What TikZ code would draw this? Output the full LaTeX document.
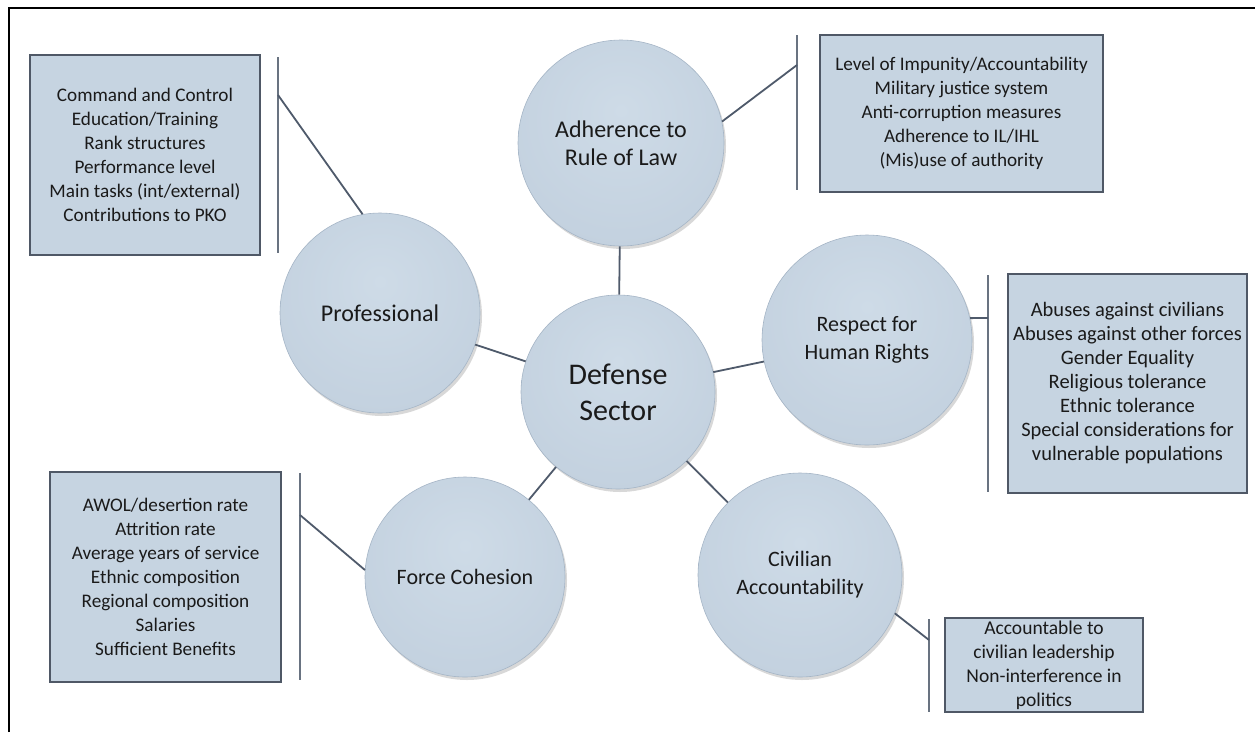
\documentclass[tikz,border=0pt]{standalone}
\usepackage{fontspec}
\setmainfont{Carlito}
\usetikzlibrary{shadows}
\definecolor{boxfill}{HTML}{C6D4E1}
\definecolor{boxline}{HTML}{4F5866}
\definecolor{circin}{HTML}{CEDBE7}
\definecolor{circfill}{HTML}{C3D1DF}
\definecolor{circedge}{HTML}{A5B5C6}
\definecolor{linec}{HTML}{4F5A6B}
\definecolor{txt}{HTML}{1A1A1A}
\pgfdeclareradialshading{bub}{\pgfpoint{0bp}{8bp}}{color(0bp)=(circin); color(30bp)=(circfill); color(52bp)=(circedge); color(70bp)=(circedge)}
\begin{document}
\begin{tikzpicture}[x=1pt,y=-1pt,
  bubble/.style={circle, shading=bub, draw=circedge, line width=0.6pt, inner sep=0pt, align=center,
    font=\fontsize{22}{28}\selectfont, text=txt,
    drop shadow={shadow xshift=2pt, shadow yshift=-3pt, opacity=0.3}},
  infobox/.style={draw=boxline, line width=1.8pt, fill=boxfill, align=center,
    font=\fontsize{19.2}{24}\selectfont, text=txt, inner sep=0pt},
  conn/.style={draw=linec, line width=1.8pt},
  bar/.style={draw=linec!85, line width=2pt}]
\useasboundingbox (0,0) rectangle (1255,732);
\fill[white] (0,0) rectangle (1255,732);
% frame
\draw[line width=2pt] (9,732) -- (9,8) -- (1255,8);

% circles
\node[bubble, minimum size=206pt, font=\fontsize{24}{28}\selectfont] (adh) at (621,143) {Adherence to\\Rule of Law};
\node[bubble, minimum size=200pt, font=\fontsize{24}{28}\selectfont] (prof) at (380,313) {Professional};
\node[bubble, minimum size=210pt] (resp) at (867,340) {Respect for\\Human Rights};
\node[bubble, minimum size=200pt] (force) at (465,577) {Force Cohesion};
\node[bubble, minimum size=204pt] (civ) at (800,575) {Civilian\\Accountability};
\node[bubble, minimum size=194pt, font=\fontsize{30}{36}\selectfont] (def) at (618,392) {Defense\\Sector};

% central connectors
\draw[conn] (def) -- (adh);
\draw[conn] (def) -- (prof);
\draw[conn] (def) -- (resp);
\draw[conn] (def) -- (force);
\draw[conn] (def) -- (civ);

% info boxes
\node[infobox, minimum width=230pt, minimum height=200pt] (profbox) at (145,155)
  {Command and Control\\Education/Training\\Rank structures\\Performance level\\Main tasks (int/external)\\Contributions to PKO};
\node[infobox, minimum width=283pt, minimum height=157pt] (adhbox) at (961.5,113.5)
  {Level of Impunity/Accountability\\Military justice system\\Anti-corruption measures\\Adherence to IL/IHL\\(Mis)use of authority};
\node[infobox, minimum width=239pt, minimum height=219pt, font=\fontsize{20.5}{24}\selectfont] (respbox) at (1127.5,383.5)
  {Abuses against civilians\\Abuses against other forces\\Gender Equality\\Religious tolerance\\Ethnic tolerance\\Special considerations for\\vulnerable populations};
\node[infobox, minimum width=231pt, minimum height=210pt] (forcebox) at (165.5,577)
  {AWOL/desertion rate\\Attrition rate\\Average years of service\\Ethnic composition\\Regional composition\\Salaries\\Sufficient Benefits};
\node[infobox, minimum width=198pt, minimum height=94pt, font=\fontsize{19.5}{24}\selectfont] (civbox) at (1044,665)
  {Accountable to\\civilian leadership\\Non-interference in\\politics};

% bars
\coordinate (pbT) at (278,57);  \coordinate (pbB) at (278,253); \coordinate (pbC) at (278,95);
\coordinate (abT) at (797,35);  \coordinate (abB) at (797,190); \coordinate (abC) at (797,65);
\coordinate (rbT) at (988,275); \coordinate (rbB) at (988,492); \coordinate (rbC) at (988,318);
\coordinate (fbT) at (300,473); \coordinate (fbB) at (300,680); \coordinate (fbC) at (300,515);
\coordinate (cbT) at (929,619); \coordinate (cbB) at (929,712); \coordinate (cbC) at (929,640);
\draw[bar] (pbT) -- (pbB);
\draw[bar] (abT) -- (abB);
\draw[bar] (rbT) -- (rbB);
\draw[bar] (fbT) -- (fbB);
\draw[bar] (cbT) -- (cbB);

% bar connectors
\draw[conn] (pbC) -- (prof.100);
\draw[conn] (adh.12) -- (abC);
\draw[conn] (resp.12) -- (rbC);
\draw[conn] (fbC) -- (force.176);
\draw[conn] (civ.-22) -- (cbC);
\end{tikzpicture}
\end{document}
